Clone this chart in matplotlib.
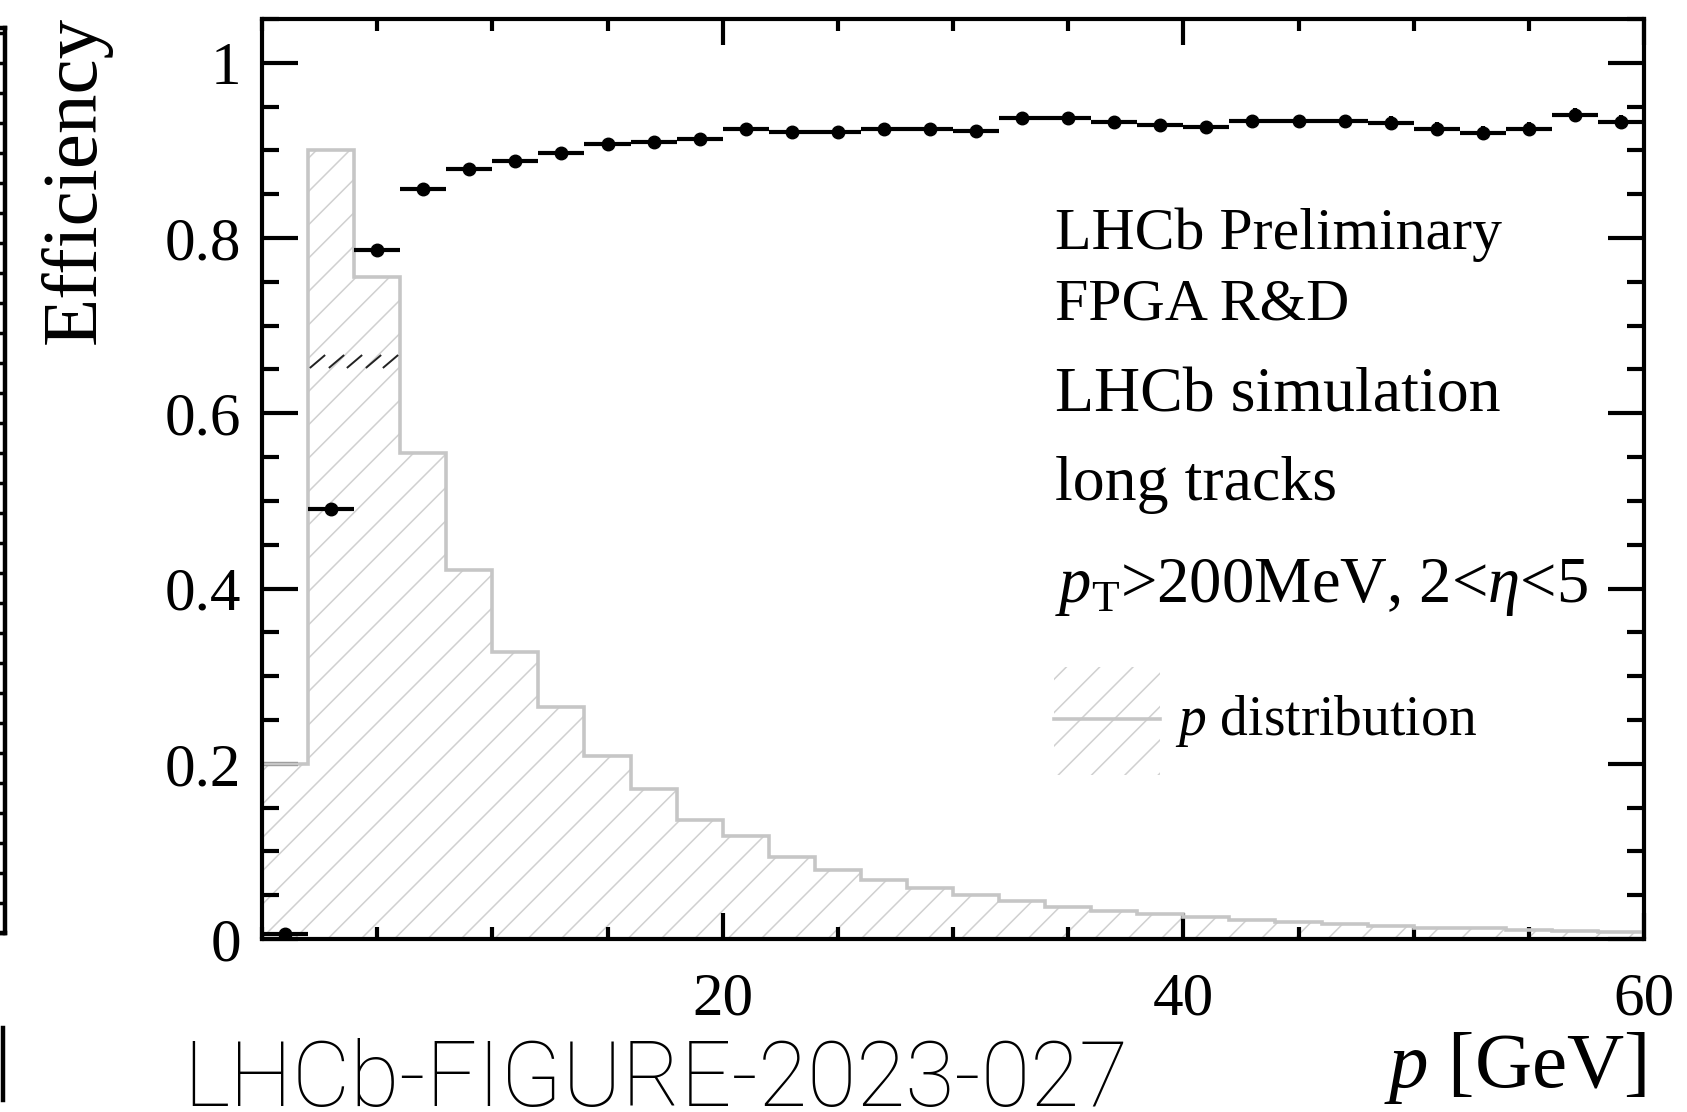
import matplotlib
matplotlib.use("Agg")
import matplotlib.pyplot as plt
from matplotlib.ticker import MultipleLocator, FixedLocator, FuncFormatter
from matplotlib.patches import Rectangle
from matplotlib.lines import Line2D

# ---------------- data ----------------
bin_edges = [0, 2, 4, 6, 8, 10, 12, 14, 16, 18, 20, 22, 24, 26, 28, 30,
             32, 34, 36, 38, 40, 42, 44, 46, 48, 50, 52, 54, 56, 58, 60]
p_centers = [1, 3, 5, 7, 9, 11, 13, 15, 17, 19, 21, 23, 25, 27, 29,
             31, 33, 35, 37, 39, 41, 43, 45, 47, 49, 51, 53, 55, 57, 59]
efficiency = [0.006, 0.491, 0.786, 0.856, 0.879, 0.888, 0.897, 0.907, 0.910, 0.913,
              0.924, 0.921, 0.921, 0.924, 0.925, 0.922, 0.937, 0.937, 0.932, 0.929,
              0.927, 0.934, 0.934, 0.934, 0.931, 0.924, 0.920, 0.924, 0.940, 0.932]
efficiency_err = [0.004, 0.006, 0.005, 0.005, 0.005, 0.005, 0.005, 0.005, 0.005, 0.006,
                  0.006, 0.006, 0.006, 0.006, 0.006, 0.007, 0.007, 0.007, 0.007, 0.007,
                  0.007, 0.007, 0.007, 0.007, 0.008, 0.008, 0.008, 0.008, 0.008, 0.008]
p_distribution = [0.200, 0.900, 0.755, 0.555, 0.421, 0.328, 0.265, 0.209, 0.171, 0.136,
                  0.118, 0.094, 0.079, 0.067, 0.058, 0.050, 0.043, 0.036, 0.032, 0.029,
                  0.025, 0.022, 0.019, 0.017, 0.015, 0.013, 0.012, 0.010, 0.009, 0.008]
# short dark hatch dashes visible inside the histogram (rendering artefact)
artifact_dash_x = [2.39, 3.21, 3.99, 4.82, 5.56]
artifact_dash_y = [0.660, 0.660, 0.660, 0.660, 0.660]
x_major_ticks = [20, 40, 60]
y_major_ticks = [0, 0.2, 0.4, 0.6, 0.8, 1.0]
text_lines = ["LHCb Preliminary", "FPGA R&D", "LHCb simulation", "long tracks",
              r"$p_{\mathrm{T}}$>200MeV, 2<$\eta$<5"]
legend_label = r"$p$ distribution"
x_label = r"$p$ [GeV]"
y_label = "Efficiency"
figure_id = "LHCb-FIGURE-2023-027"

# ---------------- style ----------------
plt.rcParams["font.family"] = ["Liberation Serif", "DejaVu Serif"]
plt.rcParams["mathtext.fontset"] = "custom"
plt.rcParams["mathtext.rm"] = "Liberation Serif"
plt.rcParams["mathtext.it"] = "Liberation Serif:italic"
plt.rcParams["mathtext.bf"] = "Liberation Serif:bold"
plt.rcParams["hatch.linewidth"] = 1.1

W, H = 1687, 1112
fig = plt.figure(figsize=(W / 100, H / 100), dpi=100)

def fx(px):
    return px / W

def fy(py):
    return 1 - py / H

ax_l, ax_r, ax_t, ax_b = 262, 1644, 19, 939
ax = fig.add_axes([fx(ax_l), fy(ax_b), (ax_r - ax_l) / W, (ax_b - ax_t) / H])

hist_gray = "#c6c6c6"
hatch_gray = "#d0d0d0"

ax.stairs(p_distribution, bin_edges, fill=True, hatch="/", facecolor="none",
          edgecolor=hatch_gray, linewidth=0, zorder=1)
ax.stairs(p_distribution, bin_edges, fill=False, color=hist_gray, linewidth=2.6, zorder=2)
ax.plot(artifact_dash_x, artifact_dash_y, linestyle="none",
        marker=[(-1, -0.85), (1, 0.85)], markersize=11, markeredgewidth=1.4,
        color="#222222", zorder=2)

ax.errorbar(p_centers, efficiency, xerr=1, yerr=efficiency_err, fmt="o", color="k",
            ms=9, elinewidth=3, capsize=0, zorder=5)

ax.set_xlim(0, 60)
ax.set_ylim(0, 1.05)
ax.xaxis.set_major_locator(FixedLocator(x_major_ticks))
ax.xaxis.set_minor_locator(MultipleLocator(5))
ax.yaxis.set_major_locator(FixedLocator(y_major_ticks))
ax.yaxis.set_minor_locator(MultipleLocator(0.05))
ax.yaxis.set_major_formatter(FuncFormatter(lambda v, pos: "%g" % v))
ax.xaxis.set_major_formatter(FuncFormatter(lambda v, pos: "%g" % v))

for s in ax.spines.values():
    s.set_linewidth(3)
ax.tick_params(axis="both", which="both", direction="in", top=True, right=True,
               width=3, labelsize=44)
ax.tick_params(axis="y", which="major", length=26, pad=15)
ax.tick_params(axis="y", which="minor", length=12)
ax.tick_params(axis="x", which="major", length=19, pad=24)
ax.tick_params(axis="x", which="minor", length=8.5)

# axis titles
fig.text(fx(ax_r + 2), fy(1087), x_label, fontsize=57, ha="right", va="baseline")
fig.text(fx(95), fy(16), y_label, fontsize=57, rotation=90, ha="right",
         va="baseline", rotation_mode="anchor")

# text block
tx = 1055
fig.text(fx(tx), fy(249), text_lines[0], fontsize=43, ha="left", va="baseline")
fig.text(fx(tx), fy(319), text_lines[1], fontsize=43, ha="left", va="baseline")
fig.text(fx(tx), fy(411), text_lines[2], fontsize=46, ha="left", va="baseline")
fig.text(fx(tx), fy(500), text_lines[3], fontsize=46, ha="left", va="baseline")
fig.text(fx(tx), fy(602), text_lines[4], fontsize=46.5, ha="left", va="baseline")

# legend entry (hatched box with gray line)
lx0, lx1, ly0, ly1, lym = 1054, 1160, 667, 775, 719
ax_w, ax_h = ax_r - ax_l, ax_b - ax_t
ax.add_patch(Rectangle(((lx0 - ax_l) / ax_w, (ax_b - ly1) / ax_h),
                       (lx1 - lx0) / ax_w, (ly1 - ly0) / ax_h,
                       transform=ax.transAxes, hatch="/", facecolor="none",
                       edgecolor=hatch_gray, linewidth=0, zorder=3))
ax.add_line(Line2D([(lx0 - ax_l) / ax_w, (lx1 - ax_l) / ax_w],
                   [(ax_b - lym) / ax_h] * 2, transform=ax.transAxes,
                   color=hist_gray, linewidth=2.6, zorder=4))
fig.text(fx(1175), fy(735), legend_label, fontsize=40, ha="left", va="baseline")

# neighbouring panel edge at far left
ax0 = fig.add_axes([-0.2, fy(933), 0.2 + fx(5), (933 - 28) / H])
ax0.set_ylim(0, (933 - 28) / 30.0)
ax0.set_xlim(0, 1)
ax0.yaxis.set_major_locator(MultipleLocator(1))
ax0.tick_params(axis="y", which="both", left=False, right=True, direction="in",
                length=5, width=2.5, labelleft=False, labelright=False)
ax0.tick_params(axis="x", bottom=False, labelbottom=False)
for s in ax0.spines.values():
    s.set_linewidth(3.2)
fig.add_artist(Line2D([fx(3), fx(3)], [fy(1028), fy(1100)], color="k", linewidth=3.2))

# figure id
fig.text(fx(183), fy(1106), figure_id, fontsize=64.5, family=["Roboto", "DejaVu Sans"],
         fontweight="light", ha="left", va="baseline", color="black")

fig.savefig("out.png", dpi=100)
